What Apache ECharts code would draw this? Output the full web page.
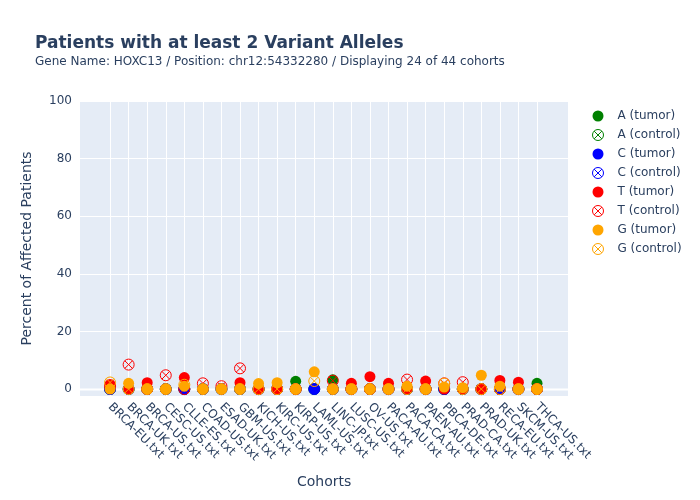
<!DOCTYPE html>
<html><head><meta charset="utf-8">
<script src="https://cdn.jsdelivr.net/npm/echarts@6/dist/echarts.min.js"></script>
<style>html,body{margin:0;padding:0;background:#fff}#c{width:700px;height:500px}</style>
</head><body><div id="c"></div>
<script>
var cohorts = ['BRCA-EU.txt','BRCA-UK.txt','BRCA-US.txt','CESC-US.txt','CLLE-ES.txt','COAD-US.txt','ESAD-UK.txt','GBM-US.txt','KICH-US.txt','KIRC-US.txt','KIRP-US.txt','LAML-US.txt','LINC-JP.txt','LUSC-US.txt','OV-US.txt','PACA-AU.txt','PACA-CA.txt','PAEN-AU.txt','PBCA-DE.txt','PRAD-CA.txt','PRAD-UK.txt','RECA-EU.txt','SKCM-US.txt','THCA-US.txt'];
var yTicks = [0,20,40,60,80,100];
var aTumor   = [0,0,0,0,0,0,0,0,0,0,2.7,0,3.2,0,0,0,0,0,0,0,0,0,0,2.0];
var aControl = [0,0,0,0,0,0,0,0,0,0,0,0,0,0,0,0,0,0,0,0,0,0,0,0];
var cTumor   = [0,0,0,0,0,0,0,0,0,0,0,0,0,0,0,0,0,0,0,0,0,0,0,0];
var cControl = [0,0,0,0,0,0,0,0,0,0,0,0,0,0,0,0,0,0,0,0,0,0,0,0];
var tTumor   = [1.6,0,2.2,0,4.0,0,0,2.2,0,0,0,null,0,2.0,4.3,2.0,0,2.8,0,0,0,3.0,2.4,0];
var tControl = [1.0,8.5,0,4.8,0,2.0,1.0,7.2,0,0,0,null,2.9,0,0,0,3.3,0,2.0,2.4,0,0,0,0];
var gTumor   = [0,2.0,0,0,1.0,0,0,0,1.9,2.2,0,6.0,0,0,0,0,1.0,0,0.7,0.5,4.8,1.0,0,0];
var gControl = [2.3,0,0,0,1.5,0,0,0,0,0,0,2.8,0,0,0,0,0,0,1.9,0,0,0,0,0];

var circleX = 'path://M0,10A10,10,0,1,1,20,10A10,10,0,1,1,0,10ZM2.93,2.93L17.07,17.07M17.07,2.93L2.93,17.07';
var FONT = 'DejaVu Sans';
var TXT = '#2a3f5f';

function mk(name, vals, color, open) {
  var data = [];
  vals.forEach(function(v, i){ if (v !== null) data.push([i, v]); });
  return {
    name: name, type: 'scatter',
    data: data,
    symbol: open ? circleX : 'circle',
    symbolSize: 11,
    itemStyle: open ? {color: 'rgba(0,0,0,0)', borderColor: color, borderWidth: 1, opacity: 1} : {color: color, borderWidth: 0, opacity: 1},
    emphasis: {disabled: true},
    animation: false
  };
}

var chart = echarts.init(document.getElementById('c'));
chart.setOption({
  animation: false,
  title: {
    text: 'Patients with at least 2 Variant Alleles',
    subtext: 'Gene Name: HOXC13 / Position: chr12:54332280 / Displaying 24 of 44 cohorts',
    left: 31, top: 33, itemGap: 0, padding: [0,4,0,4],
    textStyle: {fontFamily: FONT, fontSize: 17, fontWeight: 'bold', color: TXT, lineHeight: 22},
    subtextStyle: {fontFamily: FONT, fontSize: 12, color: TXT, lineHeight: 14}
  },
  legend: {
    orient: 'vertical', left: 587, top: 105, itemWidth: 11, itemHeight: 11, itemGap: 7,
    itemStyle: {borderWidth: 1},
    textStyle: {fontFamily: FONT, fontSize: 12, color: TXT, lineHeight: 12, padding: [0,0,0,9]},
    data: ['A (tumor)','A (control)','C (tumor)','C (control)','T (tumor)','T (control)','G (tumor)','G (control)']
  },
  grid: {left: 80, right: 132, top: 101, bottom: 104, show: true, backgroundColor: '#e5ecf6', borderWidth: 0},
  xAxis: {
    type: 'value', min: -1.62, max: 24.67,
    axisLine: {show: false}, axisTick: {show: false, customValues: cohorts.map(function(c,i){return i;})},
    splitLine: {show: true, lineStyle: {color: '#fff', width: 1}},
    axisLabel: {
      customValues: cohorts.map(function(c,i){return i;}),
      formatter: function(v){ return cohorts[Math.round(v)] || ''; },
      rotate: -45, fontFamily: FONT, fontSize: 12, color: TXT, margin: 9
    }
  },
  yAxis: {
    type: 'value', min: -2.4, max: 100,
    name: 'Percent of Affected Patients', nameLocation: 'middle', nameGap: 46,
    nameTextStyle: {fontFamily: FONT, fontSize: 14, color: TXT},
    axisLine: {show: false}, axisTick: {show: false, customValues: yTicks},
    splitLine: {show: true, lineStyle: {color: '#fff', width: 1}},
    axisLabel: {customValues: yTicks, fontFamily: FONT, fontSize: 12, color: TXT, margin: 8}
  },
  graphic: [
    {type: 'rect', shape: {x: 80, y: 388.5, width: 488, height: 2}, style: {fill: '#fff'}, z: 0, silent: true},
    {type: 'text', left: 297, top: 475, style: {text: 'Cohorts', fontFamily: FONT, fontSize: 14, fill: TXT}}
  ],
  series: [
    mk('A (tumor)', aTumor, '#008000', false),
    mk('A (control)', aControl, '#008000', true),
    mk('C (tumor)', cTumor, '#0000ff', false),
    mk('C (control)', cControl, '#0000ff', true),
    mk('T (tumor)', tTumor, '#ff0000', false),
    mk('T (control)', tControl, '#ff0000', true),
    mk('G (tumor)', gTumor, '#ffa500', false),
    mk('G (control)', gControl, '#ffa500', true)
  ]
});
</script></body></html>
